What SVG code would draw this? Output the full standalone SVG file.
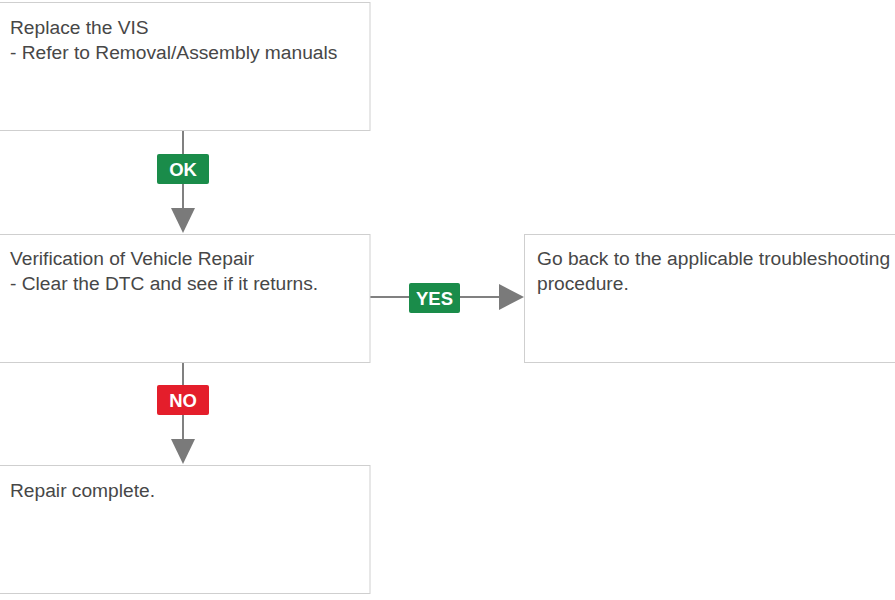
<svg xmlns="http://www.w3.org/2000/svg" width="895" height="600" viewBox="0 0 895 600">
<style>
.box{fill:#fff;stroke:#cfcfcf;stroke-width:1}
.t{font-family:"Liberation Sans",Arial,sans-serif;font-size:19.2px;fill:#474747}
.ln{stroke:#808080;stroke-width:2;fill:none}
.ah{fill:#7a7a7a}
.bt{font-family:"Liberation Sans",Arial,sans-serif;font-size:18.5px;font-weight:bold;fill:#fff;text-anchor:middle}
.g{fill:#1a8c4a}
.r{fill:#e41e2b}
</style>
<rect width="895" height="600" fill="#fff"/>
<g id="connectors">
<line class="ln" x1="183" y1="130" x2="183" y2="210"/>
<polygon class="ah" points="171,208 195,208 183,233"/>
<rect class="g" x="157" y="154" width="52" height="30" rx="2"/>
<text class="bt" x="183" y="176">OK</text>
<line class="ln" x1="370" y1="297" x2="502" y2="297"/>
<polygon class="ah" points="499,284 499,310 524,297"/>
<rect class="g" x="409" y="283" width="51" height="30" rx="2"/>
<text class="bt" x="434.5" y="305">YES</text>
<line class="ln" x1="183" y1="362" x2="183" y2="442"/>
<polygon class="ah" points="171,439 195,439 183,464"/>
<rect class="r" x="157" y="385" width="52" height="30" rx="2"/>
<text class="bt" x="183" y="407">NO</text>
</g>
<g id="n1">
<rect class="box" x="-1" y="2.5" width="371" height="128"/>
<text class="t" x="10" y="34">Replace the VIS</text>
<text class="t" x="10" y="59">- Refer to Removal/Assembly manuals</text>
</g>
<g id="n2">
<rect class="box" x="-1" y="234.5" width="371" height="128"/>
<text class="t" x="10" y="265">Verification of Vehicle Repair</text>
<text class="t" x="10" y="290">- Clear the DTC and see if it returns.</text>
</g>
<g id="n3">
<rect class="box" x="524.5" y="234.5" width="375" height="128"/>
<text class="t" x="537" y="265">Go back to the applicable troubleshooting</text>
<text class="t" x="537" y="290">procedure.</text>
</g>
<g id="n4">
<rect class="box" x="-1" y="465.5" width="371" height="128"/>
<text class="t" x="10" y="497">Repair complete.</text>
</g>
</svg>
